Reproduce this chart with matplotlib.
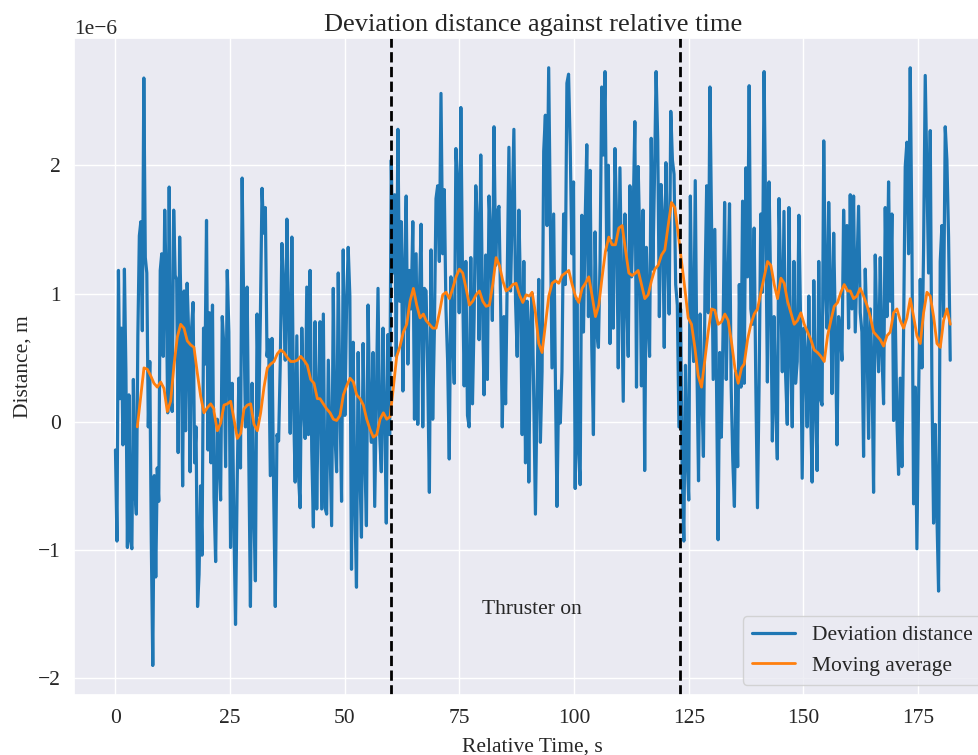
import numpy as np
import matplotlib
matplotlib.use('Agg')
import matplotlib.pyplot as plt
import seaborn as sns

# segment boundaries in seconds (blue series was read in 8 chunks)
seg_bounds = [0.0, 21.48, 44.60, 67.72, 90.84, 113.96, 137.08, 160.20, 182.0]

# deviation distance, units of 1e-6 m
dev_1 = [-0.22, -0.93, 1.18, 0.18, 0.73, -0.18, 1.19, 0.39, -0.98, 0.21, -0.92, -0.99, 0.33, -0.53,
         -0.72, 0.67, 1.45, 1.56, 0.71, 2.68, 1.28, 1.16, -0.04, 0.47, -0.93, -1.9, -0.42, -1.21,
         -0.36, -0.62, 1.18, 1.31, 0.51, 1.65, 1.04, 0.07, 1.83, 0.21, 0.08, 1.65, 1.14, 1.11, -0.24,
         1.44, 0.82, -0.5, 1.02, -0.07, 1.08, 0.7, -0.39, 0.73, 0.93, -0.32, -0.04, -1.44, -1.19,
         -0.5, -1.04, 0.73, 0.45, 1.57, -0.22, 0.85, -0.32, 0.91]
dev_2 = [-0.59, -1.09, 0.02, -0.26, -0.61, 0.82, 0.58, -0.35, 1.18, 0.7, -0.98, 0.3, -0.78, -1.58,
         -0.47, 0.34, -0.36, 1.9, 0.82, -0.04, 1.05, -0.26, -1.44, 0.3, -0.67, -1.24, 0.84, 0.05,
         0.82, 1.82, 1.47, 1.67, 0.51, 0.64, -0.42, 0.65, -0.52, -1.44, -0.1, -0.15, 0.45, 1.39,
         1.04, 0.48, 1.58, 0.85, -0.09, 1.44, 0.14, -0.47, 0.67, -0.41, -0.67, 0.73, 0.13, -0.13,
         1.05, -0.1, 1.18, -0.22, -0.82, 0.78, -0.68, 0.21]
dev_3 = [0.78, -0.68, 0.84, -0.67, -0.72, 0.48, -0.16, -0.81, 1.04, -0.1, -0.39, 1.16, 0.18, -0.62,
         1.34, 0.05, 0.88, 1.36, 0.98, -1.15, 0.62, -0.61, -1.29, 0.54, -0.35, -0.9, 0.61, -0.26,
         -0.81, 0.91, 0.08, -0.16, 0.54, -0.66, 0.19, 1.04, -0.1, -0.39, 0.73, 0.08, -0.79, 0.68,
         -0.1, 2.04, 1.16, 1.77, 0.51, 2.28, 0.94, 1.56, 0.24, 1.19, 1.76, 0.45, 1.18, 0.88, 1.56,
         0.02, 1.31, -0.02, 1.0, 1.54, -0.04, 1.04]
dev_4 = [1.02, 0.36, -0.55, 1.34, 0.02, 0.7, 1.74, 1.84, 1.25, 2.56, 1.31, 1.81, 0.88, 0.48, -0.29,
         1.13, 0.7, 0.3, 2.13, 1.87, 0.85, 2.45, 1.13, 0.28, 1.25, 0.05, -0.04, 1.28, 0.14, 0.81,
         1.84, 1.56, 0.64, 2.08, 0.94, 0.21, 1.3, 0.33, 1.76, 1.44, 0.79, 2.3, 1.22, 1.63, 1.68,
         0.91, -0.04, 0.82, 0.14, 1.13, 2.14, 1.02, 1.65, 2.28, 0.94, 0.51, 1.65, 1.0, -0.1, 1.25,
         -0.32, 0.94, -0.47, 0.76]
dev_5 = [1.0, 0.18, -0.72, 0.24, 1.11, -0.16, 0.39, 2.11, 2.39, 1.53, 2.76, 1.59, 0.42, 1.62, 0.39,
         -0.66, 0.24, -0.01, 0.39, 1.62, 1.07, 2.64, 2.71, 2.14, 1.31, 1.87, -0.52, 0.94, -0.22,
         -0.49, 1.61, 0.7, 1.56, 2.16, 0.82, 1.96, 0.59, -0.1, 1.48, 0.7, 0.58, 1.25, 2.61, 2.08,
         2.73, 1.34, 2.0, 0.61, 1.41, 0.73, 2.13, 1.56, 0.42, 1.98, 1.07, 0.16, 1.62, 1.0, 0.51,
         1.84, 1.13, 1.62, 2.34, 0.27]
dev_6 = [1.99, 1.41, 0.28, 1.65, -0.38, 1.36, 0.82, 0.51, 2.21, 1.19, 1.9, 2.73, 2.19, 0.82, 1.85,
         1.59, 0.58, 2.02, 1.34, 0.84, 2.42, 2.04, 1.93, 1.07, 0.91, -0.04, 0.88, -0.41, -0.93,
         0.44, -0.26, -0.61, 1.76, 0.73, 0.47, 1.88, 0.45, -0.46, 0.84, 0.24, -0.27, 1.08, 1.84,
         0.85, 2.61, 1.53, 0.33, 1.5, 0.34, -0.92, 0.54, -0.12, 0.67, 1.71, 0.33, 1.04, 1.7, 0.28,
         -0.3, -0.66, 0.39, -0.35, 1.07, 0.27, 1.72]
dev_7 = [0.3, 1.98, 1.13, 2.62, 0.88, 0.76, 1.51, 0.3, -0.67, 0.3, 1.62, 1.01, 2.73, 1.56, 0.31,
         1.87, 1.01, -0.15, 0.82, 0.14, -0.29, 1.74, 1.1, 0.39, 1.64, 0.36, -0.02, 1.67, 0.54,
         -0.04, 1.25, 0.3, 0.47, 1.61, 0.82, -0.44, 0.73, 0.51, -0.04, 0.98, 0.14, -0.47, 1.1, 0.14,
         -0.38, 1.25, 0.18, 0.13, 2.19, 1.07, 0.73, 1.71, 1.08, 0.22, 1.47, 0.73, -0.18, 0.82, 0.7,
         0.48, 1.65, 1.07, 1.53, 0.73]
dev_8 = [1.77, 0.88, 1.76, 0.7, 1.19, 1.68, 0.85, 0.7, -0.27, 1.19, 0.7, -0.13, 0.88, 0.45, -0.55,
         1.3, 0.7, 0.39, 1.28, 0.54, 0.14, 1.67, 0.82, 1.87, 0.94, 1.62, 0.01, 0.84, 0.02, -0.41,
         0.34, -0.35, 0.7, 1.99, 2.18, 1.31, 2.76, 1.44, -0.64, 0.27, -0.99, 0.18, 1.11, 0.42, 1.34,
         2.7, 1.93, 1.16, 2.27, 0.3, -0.79, -0.02, -0.72, -1.32, 1.25, 1.53, 0.82, 2.3, 2.04, 1.44,
         0.48]

# moving average, units of 1e-6 m, one value every 0.727 s
ma_start = [4.76, 21.48, 44.60, 67.72, 90.84, 113.96, 137.08, 160.20]
ma_step = 0.727
ma_1 = [-0.04, 0.19, 0.42, 0.41, 0.36, 0.30, 0.27, 0.31, 0.26, 0.08, 0.16, 0.44, 0.66, 0.76, 0.73,
        0.63, 0.6, 0.58, 0.38, 0.2, 0.07, 0.11, 0.14, 0.1]
ma_2 = [0.08, -0.07, -0.01, 0.13, 0.14, 0.16, 0.02, -0.13, -0.09, 0.1, 0.13, 0.14, -0.02, -0.07,
        0.07, 0.27, 0.42, 0.45, 0.47, 0.53, 0.56, 0.54, 0.5, 0.47, 0.47, 0.48, 0.51, 0.48, 0.44,
        0.33, 0.3, 0.18]
ma_3 = [0.18, 0.14, 0.1, 0.07, 0.02, 0.01, 0.05, 0.21, 0.28, 0.34, 0.31, 0.21, 0.18, 0.13, 0.02,
        -0.06, -0.12, -0.1, 0.02, 0.07, 0.02, 0.04, 0.27, 0.51, 0.59, 0.7, 0.76, 0.94, 1.04, 0.91,
        0.81, 0.84]
ma_4 = [0.79, 0.76, 0.73, 0.73, 0.85, 0.99, 1.01, 0.96, 1.04, 1.13, 1.19, 1.16, 1.04, 0.91, 0.94,
        0.99, 1.02, 0.94, 0.9, 0.91, 1.07, 1.28, 1.22, 1.1, 1.02, 1.04, 1.07, 1.08, 0.99, 0.93,
        0.99, 0.98]
ma_5 = [1.01, 0.85, 0.61, 0.54, 0.76, 0.98, 1.08, 1.1, 1.08, 1.14, 1.16, 1.18, 1.07, 0.98, 0.93,
        1.04, 1.08, 1.13, 0.98, 0.82, 0.91, 1.13, 1.33, 1.44, 1.38, 1.38, 1.51, 1.53, 1.34, 1.16,
        1.14, 1.16]
ma_6 = [1.18, 1.07, 0.96, 0.99, 1.1, 1.19, 1.22, 1.3, 1.34, 1.53, 1.71, 1.67, 1.47, 1.25, 1.04,
        0.81, 0.76, 0.58, 0.36, 0.27, 0.48, 0.7, 0.88, 0.87, 0.76, 0.78, 0.84, 0.79, 0.62, 0.42,
        0.3, 0.42]
ma_7 = [0.45, 0.64, 0.76, 0.84, 0.88, 1.01, 1.13, 1.25, 1.22, 1.07, 0.96, 1.12, 1.08, 0.94, 0.85,
        0.76, 0.79, 0.85, 0.76, 0.7, 0.64, 0.56, 0.54, 0.51, 0.47, 0.67, 0.79, 0.9, 0.93, 1.01,
        1.07, 1.02]
ma_8 = [1.02, 0.96, 0.98, 1.04, 0.98, 0.91, 0.82, 0.7, 0.67, 0.64, 0.59, 0.67, 0.7, 0.85, 0.88,
        0.79, 0.73, 0.81, 0.96, 0.82, 0.67, 0.61, 0.85, 1.01, 0.98, 0.82, 0.61, 0.58, 0.79, 0.88,
        0.76]

thruster_on = 60
thruster_off = 123


def build_series():
    dev_chunks = [dev_1, dev_2, dev_3, dev_4, dev_5, dev_6, dev_7, dev_8]
    t, d = [], []
    for i, chunk in enumerate(dev_chunks):
        last = i == len(dev_chunks) - 1
        t.append(np.linspace(seg_bounds[i], seg_bounds[i + 1], len(chunk), endpoint=last))
        d.append(np.array(chunk))
    ma_chunks = [ma_1, ma_2, ma_3, ma_4, ma_5, ma_6, ma_7, ma_8]
    mt, m = [], []
    for start, chunk in zip(ma_start, ma_chunks):
        mt.append(start + ma_step * np.arange(len(chunk)))
        m.append(np.array(chunk))
    return (np.concatenate(t), np.concatenate(d) * 1e-6,
            np.concatenate(mt), np.concatenate(m) * 1e-6)


def main():
    sns.set_theme(style='darkgrid')
    plt.rcParams['font.family'] = ['Liberation Serif', 'DejaVu Serif']

    time, dist, ma_time, ma = build_series()

    fig = plt.figure(figsize=(9.79, 7.55), dpi=100)
    ax = fig.add_axes([0.0753, 0.079, 0.938, 0.8708])

    ax.plot(time, dist, color='tab:blue', lw=2.3, label='Deviation distance')
    ax.plot(ma_time, ma, color='tab:orange', lw=2, label='Moving average')
    ax.axvline(thruster_on, color='black', ls='--', lw=2)
    ax.axvline(thruster_off, color='black', ls='--', lw=2)
    ax.text(80, -1.5e-6, 'Thruster on', fontsize=15.5)

    ax.set_title('Deviation distance against relative time', fontsize=19, pad=5)
    ax.set_xlabel('Relative Time, s', fontsize=15.5, labelpad=7)
    ax.set_ylabel('Distance, m', fontsize=15.5)
    ax.tick_params(labelsize=15.5)
    ax.yaxis.get_offset_text().set_fontsize(15.5)
    ax.legend(loc='lower right', fontsize=15.5)

    fig.savefig('out.png', dpi=100)


if __name__ == '__main__':
    main()
